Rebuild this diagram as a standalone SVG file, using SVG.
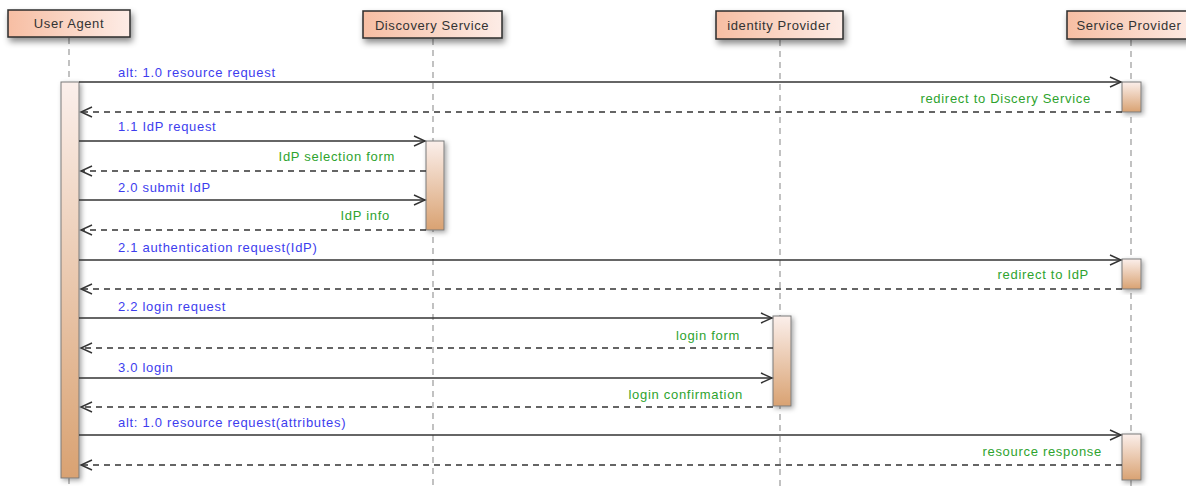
<svg xmlns="http://www.w3.org/2000/svg" width="1186" height="486" viewBox="0 0 1186 486">
<defs>
<linearGradient id="hdr" x1="0" y1="0" x2="1" y2="0">
<stop offset="0" stop-color="#f7bea3"/>
<stop offset="1" stop-color="#fdece6"/>
</linearGradient>
<linearGradient id="act" x1="0" y1="0" x2="0" y2="1">
<stop offset="0" stop-color="#fbefeb"/>
<stop offset="1" stop-color="#d9a272"/>
</linearGradient>
<filter id="sh" x="-30%" y="-30%" width="160%" height="180%">
<feDropShadow dx="2" dy="4" stdDeviation="3" flood-color="#000" flood-opacity="0.45"/>
</filter>
<filter id="sh2" x="-80%" y="-10%" width="260%" height="130%">
<feDropShadow dx="2" dy="2" stdDeviation="2.5" flood-color="#000" flood-opacity="0.35"/>
</filter>
<marker id="arr" markerWidth="14" markerHeight="12" refX="12" refY="6" orient="auto" markerUnits="userSpaceOnUse">
<path d="M1,1 L12,6 L1,11" fill="none" stroke="#333" stroke-width="1.4"/>
</marker>
</defs>
<style>
.hbox{fill:url(#hdr);stroke:#2b2b2b;stroke-width:1.5;filter:url(#sh)}
.htxt{font-family:"Liberation Sans",Arial,sans-serif;font-size:13px;letter-spacing:0.6px;fill:#333;text-anchor:middle}
.life{stroke:#999;stroke-width:1.2;stroke-dasharray:6 5;fill:none}
.actv{fill:url(#act);stroke:#7a7a7a;stroke-width:1;filter:url(#sh2)}
.req{stroke:#333;stroke-width:1.3;fill:none;marker-end:url(#arr)}
.rsp{stroke:#333;stroke-width:1.3;stroke-dasharray:6 5;fill:none;marker-end:url(#arr)}
.bl{font-family:"Liberation Sans",Arial,sans-serif;font-size:13px;letter-spacing:0.7px;fill:#3d3dee}
.gr{font-family:"Liberation Sans",Arial,sans-serif;font-size:13px;letter-spacing:0.7px;fill:#2ea32e;text-anchor:end}
</style>
<rect width="1186" height="486" fill="#fff"/>
<g id="lifelines">
<line class="life" x1="69" y1="38" x2="69" y2="486"/>
<line class="life" x1="433" y1="39" x2="433" y2="486"/>
<line class="life" x1="780" y1="40" x2="780" y2="486"/>
<line class="life" x1="1131" y1="40" x2="1131" y2="486"/>
</g>
<g id="user-agent">
<rect class="hbox" x="8" y="10" width="122" height="27"/>
<text class="htxt" x="69" y="28">User Agent</text>
<rect class="actv" x="61" y="82" width="18" height="396"/>
</g>
<g id="discovery-service">
<rect class="hbox" x="363" y="11" width="139" height="27"/>
<text class="htxt" x="432" y="30">Discovery Service</text>
<rect class="actv" x="426" y="141" width="18" height="89"/>
</g>
<g id="identity-provider">
<rect class="hbox" x="716" y="11" width="127" height="28"/>
<text class="htxt" x="779" y="30">identity Provider</text>
<rect class="actv" x="773" y="316" width="18" height="90"/>
</g>
<g id="service-provider">
<rect class="hbox" x="1067" y="11" width="130" height="28"/>
<text class="htxt" x="1129" y="30">Service Provider</text>
<rect class="actv" x="1122" y="82" width="19" height="30"/>
<rect class="actv" x="1122" y="259" width="19" height="30"/>
<rect class="actv" x="1122" y="434" width="19" height="46"/>
</g>
<g id="connectors">
<line class="req" x1="79" y1="82" x2="1121" y2="82"/>
<line class="rsp" x1="1122" y1="112" x2="81" y2="112"/>
<line class="req" x1="79" y1="141" x2="425" y2="141"/>
<line class="rsp" x1="426" y1="171" x2="81" y2="171"/>
<line class="req" x1="79" y1="200" x2="425" y2="200"/>
<line class="rsp" x1="426" y1="230" x2="81" y2="230"/>
<line class="req" x1="79" y1="260" x2="1121" y2="260"/>
<line class="rsp" x1="1122" y1="289" x2="81" y2="289"/>
<line class="req" x1="79" y1="318" x2="772" y2="318"/>
<line class="rsp" x1="773" y1="348" x2="81" y2="348"/>
<line class="req" x1="79" y1="378" x2="772" y2="378"/>
<line class="rsp" x1="773" y1="407" x2="81" y2="407"/>
<line class="req" x1="79" y1="435" x2="1121" y2="435"/>
<line class="rsp" x1="1122" y1="465" x2="81" y2="465"/>
<text class="bl" x="118" y="77">alt: 1.0 resource request</text>
<text class="gr" x="1091" y="103">redirect to Discery Service</text>
<text class="bl" x="118" y="131">1.1 IdP request</text>
<text class="gr" x="395" y="161">IdP selection form</text>
<text class="bl" x="118" y="192">2.0 submit IdP</text>
<text class="gr" x="390" y="220">IdP info</text>
<text class="bl" x="118" y="252">2.1 authentication request(IdP)</text>
<text class="gr" x="1089" y="279">redirect to IdP</text>
<text class="bl" x="118" y="311">2.2 login request</text>
<text class="gr" x="740" y="340">login form</text>
<text class="bl" x="118" y="372">3.0 login</text>
<text class="gr" x="743" y="399">login confirmation</text>
<text class="bl" x="118" y="427">alt: 1.0 resource request(attributes)</text>
<text class="gr" x="1102" y="456">resource response</text>
</g>
</svg>
